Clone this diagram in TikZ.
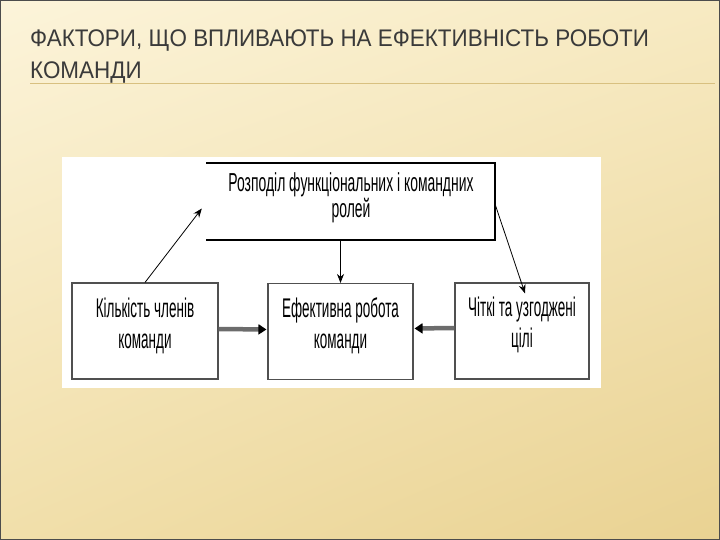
\documentclass[tikz,border=0pt]{standalone}
\usepackage{fontspec}
\setmainfont{Liberation Sans}
\newfontfamily\narrowfont[FakeStretch=0.5]{Liberation Sans}
\newfontfamily\topfont[FakeStretch=0.535]{Liberation Sans}
\newfontfamily\titlefont[FakeStretch=0.935]{Liberation Sans}
\usetikzlibrary{arrows.meta,calc,shadings}
\definecolor{bgA}{HTML}{FCF4DA}
\definecolor{bgB}{HTML}{F7EAC2}
\definecolor{bgC}{HTML}{F1DFAA}
\definecolor{bgD}{HTML}{E9D292}
\definecolor{titlecol}{HTML}{3A3A3A}
\definecolor{rulecol}{HTML}{D8C080}
\definecolor{boxedge}{HTML}{505050}
\tikzset{
  factor/.style={draw=boxedge, line width=1.1pt, fill=white, minimum width=#1, minimum height=96pt, inner sep=0pt},
  flabel/.style={anchor=base, inner sep=0pt, align=center, font=\narrowfont\fontsize{27}{31}\selectfont},
  thinarrow/.style={draw=black, line width=0.8pt, -{Stealth[length=9pt,width=7pt]}},
  thickarrow/.style={draw=gray!85!black, line width=4.5pt, -{Triangle[length=8pt,width=10pt,fill=black,color=black]}, shorten >=1pt},
  titletext/.style={anchor=base west, inner sep=0pt, text=titlecol, font=\titlefont\fontsize{24}{24}\selectfont}
}
\begin{document}
\begin{tikzpicture}[x=1pt,y=-1pt]
\useasboundingbox (0,0) rectangle (720,540);
\shade[upper left=bgA, upper right=bgB, lower left=bgC, lower right=bgD] (0,0) rectangle (720,540);
\draw[line width=1pt, draw=black!70] (0.5,0.5) rectangle (719.5,539.5);
% title
\node[titletext] (t1) at (30,47) {ФАКТОРИ, ЩО ВПЛИВАЮТЬ НА ЕФЕКТИВНІСТЬ РОБОТИ};
\node[titletext] (t2) at (30,79) {КОМАНДИ};
\coordinate (rl) at (30,84);
\coordinate (rr) at (715,84);
\draw[rulecol, line width=1pt] (rl) -- (rr);
% white panel
\fill[white] (62,157) rectangle (601,388);
% top box
\node[minimum width=288pt, minimum height=77pt, inner sep=0pt] (top) at (351,201.5) {};
\node[anchor=base, inner sep=0pt, align=center, font=\topfont\fontsize{26}{26}\selectfont] (toplabel) at (351,218)
      {Розподіл функціональних і командних\\ролей};
\draw[line width=2.2pt, line cap=rect] (top.north west) -- (top.north east) -- (top.south east) -- (top.south west);
% bottom boxes
\node[factor=146pt] (left) at (145,331) {};
\node[factor=145pt] (mid) at (340.5,331.5) {};
\node[factor=134pt] (right) at (522,331) {};
\node[flabel] (leftlabel) at (145,348) {Кількість членів\\команди};
\node[flabel] (midlabel) at (340.5,348) {Ефективна робота\\команди};
\node[flabel] (rightlabel) at (522,347) {Чіткі та узгоджені\\цілі};
% connectors
\draw[thinarrow] (left.north) -- ($(top.west)+(-5,7)$);
\draw[thinarrow] (mid.north |- top.south) -- (mid.north);
\draw[thinarrow] ($(top.east)+(0,3)$) -- ($(right.north)+(3,11)$);
\draw[thickarrow] ($(left.east)+(0,-2)$) -- ($(mid.west)+(0,-2)$);
\draw[thickarrow] ($(right.west)+(0,-3)$) -- ($(mid.east)+(0,-3)$);
\end{tikzpicture}
\end{document}
